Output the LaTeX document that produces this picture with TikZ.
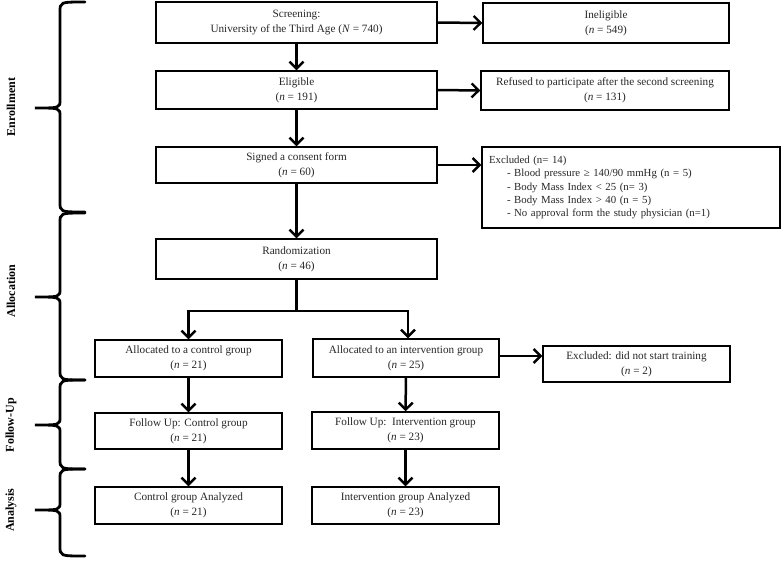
\documentclass[tikz,border=0pt]{standalone}
\usepackage{fontspec}
\setmainfont{Liberation Serif}
\usetikzlibrary{arrows.meta,positioning}

\tikzset{
  box/.style={draw, line width=1.4pt, inner sep=2pt, align=center,
    text=black!85, font=\fontsize{11.2}{15}\selectfont},
  arr/.style={line width=2.5pt, -{Straight Barb[length=7pt,width=14pt,line width=2.4pt]}},
  link/.style={line width=2.5pt},
  brace/.style={line width=2.8pt, line cap=round},
  phase/.style={rotate=90, font=\fontsize{12}{13}\selectfont\bfseries}
}

\begin{document}
\begin{tikzpicture}[x=1pt, y=-1pt]
  \useasboundingbox (0,0) rectangle (782,563);

  % main column
  \node[box, minimum width=281pt, minimum height=41pt] (screen) at (296.5,22.5)
    {Screening:\\University of the Third Age (\textit{N} = 740)};
  \node[box, minimum width=281pt, minimum height=38pt] (elig) at (296.5,90)
    {Eligible\\(\textit{n} = 191)};
  \node[box, minimum width=281pt, minimum height=36pt] (signed) at (296.5,165)
    {Signed a consent form\\(\textit{n} = 60)};
  \node[box, minimum width=281pt, minimum height=40pt] (rand) at (296.5,259)
    {Randomization\\(\textit{n} = 46)};

  % exclusions
  \node[box, minimum width=246pt, minimum height=40pt] (inelig) at (606,23)
    {Ineligible\\(\textit{n} = 549)};
  \node[box, minimum width=248pt, minimum height=39pt] (refused) at (605,90.5)
    {Refused to participate after the second screening\\(\textit{n} = 131)};
  \node[box, minimum width=298pt, minimum height=81pt, text width=284pt, align=left,
    font=\fontsize{10.8}{13.4}\selectfont] (excl) at (631,187.5)
    {Excluded (n= 14)\\
     \hspace*{18pt}- Blood pressure ≥ 140/90 mmHg (n = 5)\\
     \hspace*{18pt}- Body Mass Index < 25 (n= 3)\\
     \hspace*{18pt}- Body Mass Index > 40 (n = 5)\\
     \hspace*{18pt}- No approval form the study physician (n=1)};

  % arms
  \node[box, minimum width=187pt, minimum height=37pt] (allocC) at (188.5,358.5)
    {Allocated to a control group\\(\textit{n} = 21)};
  \node[box, minimum width=186pt, minimum height=38pt] (allocI) at (406,358)
    {Allocated to an intervention group\\(\textit{n} = 25)};
  \node[box, minimum width=187pt, minimum height=36pt] (exclT) at (636.5,364)
    {Excluded: did not start training\\(\textit{n} = 2)};
  \node[box, minimum width=187pt, minimum height=36pt] (followC) at (188.5,431)
    {Follow Up: Control group\\(\textit{n} = 21)};
  \node[box, minimum width=187pt, minimum height=37pt] (followI) at (405.5,430.5)
    {Follow Up:\ \ Intervention group\\(\textit{n} = 23)};
  \node[box, minimum width=187pt, minimum height=37pt] (analC) at (188.5,505.5)
    {Control group Analyzed\\(\textit{n} = 21)};
  \node[box, minimum width=187pt, minimum height=37pt] (analI) at (405.5,505.5)
    {Intervention group Analyzed\\(\textit{n} = 23)};

  % arrows
  \draw[arr] (screen) -- (elig);
  \draw[arr] (elig) -- (signed);
  \draw[arr] (signed) -- (rand);
  \draw[arr] (screen.east) -- (inelig.west);
  \draw[arr] (elig.east) -- (refused.west);
  \draw[arr] (signed.east) -- (signed.east -| excl.west);
  \coordinate (split) at (296.5,311);
  \draw[link] (rand.south) -- (split);
  \draw[arr] (split) -| (allocC.north);
  \draw[arr] (split) -| ([xshift=2pt]allocI.north);
  \draw[arr] ([yshift=2pt]allocI.east) -- ([yshift=2pt]allocI.east -| exclT.west);
  \draw[arr] (allocC) -- (followC);
  \draw[arr] (allocI) -- (followI);
  \draw[arr] (followC) -- (analC);
  \draw[arr] (followI) -- (analI);

  % phase braces
  \foreach \top/\mid/\bot/\name/\lab in {2/108/212/Enrollment/107,
      213/297/380/Allocation/291, 380/425/469/Follow-Up/425,
      469/510/556/Analysis/510} {
    \draw[brace] (85,\top) .. controls (60,\top) .. (60,\top+10)
      -- (60,\mid-8) .. controls (60,\mid) .. (35,\mid)
      .. controls (60,\mid) .. (60,\mid+8)
      -- (60,\bot-10) .. controls (60,\bot) .. (85,\bot);
    \node[phase] (\name) at (11,\lab) {\name};
  }
\end{tikzpicture}
\end{document}
